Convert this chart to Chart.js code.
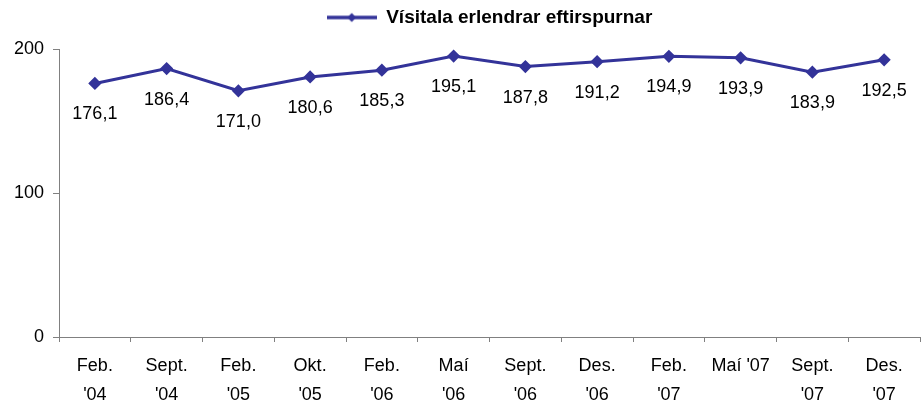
<!DOCTYPE html>
<html>
<head>
<meta charset="utf-8">
<script src="https://cdn.jsdelivr.net/npm/chart.js@4/dist/chart.umd.min.js"></script>
<style>
  body { margin: 0; background: #fff; }
  #wrap { width: 923px; height: 403px; }
</style>
</head>
<body>
<div id="wrap"><canvas id="myChart"></canvas></div>
<script>
var categories = [['Feb.', "'04"], ['Sept.', "'04"], ['Feb.', "'05"], ['Okt.', "'05"], ['Feb.', "'06"], ['Maí', "'06"],
    ['Sept.', "'06"], ['Des.', "'06"], ['Feb.', "'07"], "Maí '07", ['Sept.', "'07"], ['Des.', "'07"]];
var visitala = [176.1, 186.4, 171.0, 180.6, 185.3, 195.1, 187.8, 191.2, 194.9, 193.9, 183.9, 192.5];
var seriesName = 'Vísitala erlendrar eftirspurnar';

var lineColor = '#333399';
var fontFamily = '"Liberation Sans", Arial, sans-serif';

// legend symbol: line with a diamond in the middle
var legendIcon = document.createElement('canvas');
legendIcon.width = 50;
legendIcon.height = 12;
(function () {
    var c = legendIcon.getContext('2d');
    c.strokeStyle = lineColor;
    c.lineWidth = 3.5;
    c.beginPath();
    c.moveTo(0, 6);
    c.lineTo(50, 6);
    c.stroke();
    c.fillStyle = lineColor;
    c.beginPath();
    c.moveTo(25, 1.5);
    c.lineTo(29.5, 6);
    c.lineTo(25, 10.5);
    c.lineTo(20.5, 6);
    c.closePath();
    c.fill();
})();

// numbers under each point, with comma decimals
var valueLabels = {
    id: 'valueLabels',
    afterDatasetsDraw: function (chart) {
        var ctx = chart.ctx;
        var meta = chart.getDatasetMeta(0);
        ctx.save();
        ctx.font = '18px ' + fontFamily;
        ctx.fillStyle = '#000';
        ctx.textAlign = 'center';
        ctx.textBaseline = 'middle';
        meta.data.forEach(function (pt, i) {
            ctx.fillText(visitala[i].toFixed(1).replace('.', ','), pt.x, pt.y + 31);
        });
        ctx.restore();
    }
};

var ctx = document.getElementById('myChart').getContext('2d');
var chart = new Chart(ctx, {
    type: 'line',
    data: {
        labels: categories,
        datasets: [{
            label: seriesName,
            data: visitala,
            borderColor: lineColor,
            backgroundColor: lineColor,
            borderWidth: 3,
            pointStyle: 'rectRot',
            pointRadius: 4.5,
            pointHoverRadius: 4.5,
            tension: 0
        }]
    },
    options: {
        responsive: true,
        maintainAspectRatio: false,
        animation: false,
        layout: { autoPadding: false, padding: { left: 0, right: 3, top: 0, bottom: 0 } },
        plugins: {
            legend: {
                position: 'top',
                fullSize: false,
                weight: 1000,
                labels: {
                    padding: 8,
                    color: '#000',
                    font: { family: fontFamily, size: 19, weight: 'bold' },
                    usePointStyle: true,
                    pointStyleWidth: 50,
                    generateLabels: function (chart) {
                        return [{
                            text: seriesName,
                            pointStyle: legendIcon,
                            fillStyle: lineColor,
                            strokeStyle: lineColor,
                            lineWidth: 0,
                            datasetIndex: 0
                        }];
                    }
                }
            },
            // empty title used only as a gap under the legend
            title: {
                display: true,
                text: '',
                position: 'top',
                weight: 500,
                padding: 0,
                font: { size: 12, lineHeight: 1 }
            },
            tooltip: { enabled: false }
        },
        scales: {
            x: {
                offset: true,
                grid: {
                    offset: true,
                    drawOnChartArea: false,
                    drawTicks: true,
                    tickLength: 5,
                    color: '#808080'
                },
                border: { color: '#808080', width: 1 },
                ticks: {
                    color: '#000',
                    autoSkip: false,
                    maxRotation: 0,
                    padding: 10,
                    font: { family: fontFamily, size: 18, lineHeight: 1.6 }
                },
                afterFit: function (s) { s.height = 66; }
            },
            y: {
                min: 0,
                max: 200,
                ticks: {
                    stepSize: 100,
                    color: '#000',
                    padding: 9,
                    font: { family: fontFamily, size: 18 }
                },
                grid: {
                    drawOnChartArea: false,
                    drawTicks: true,
                    tickLength: 6,
                    color: '#808080'
                },
                border: { color: '#808080', width: 1 },
                afterFit: function (s) { s.width = 59; }
            }
        }
    },
    plugins: [valueLabels]
});
</script>
</body>
</html>
